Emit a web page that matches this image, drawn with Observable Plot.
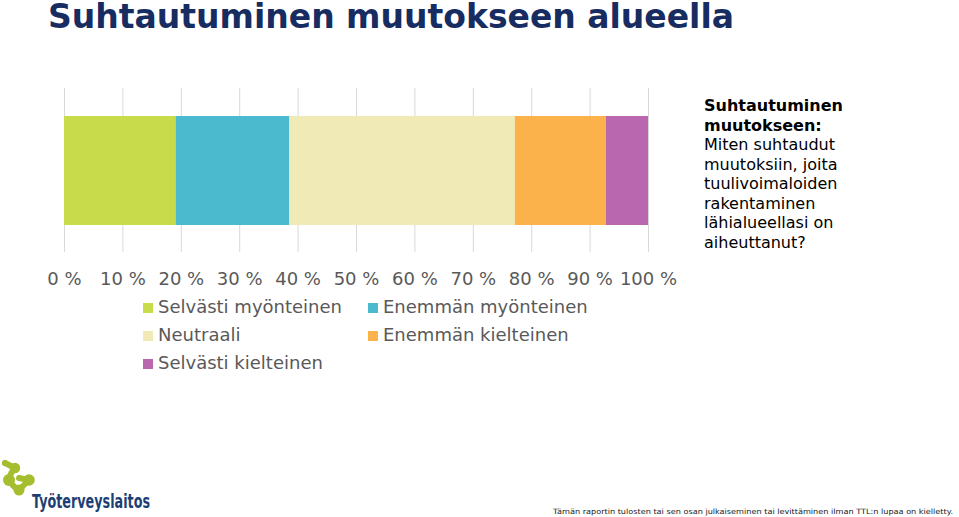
<!DOCTYPE html>
<html><head><meta charset="utf-8">
<script src="https://cdn.jsdelivr.net/npm/d3@7"></script>
<script src="https://cdn.jsdelivr.net/npm/@observablehq/plot@0.6"></script>
<style>
body{margin:0;width:959px;height:517px;position:relative;background:#fff;font-family:"DejaVu Sans",Verdana,sans-serif;overflow:hidden}
#title{position:absolute;left:48px;top:0px;font-size:33px;line-height:33px;font-weight:bold;color:#172C61;white-space:nowrap}
#chart{position:absolute;left:0;top:0}
.leg{position:absolute;font-size:18px;line-height:28px;color:#595959;white-space:nowrap}
.sw{display:inline-block;width:10px;height:10px;margin-right:5px;vertical-align:0px}
#note{position:absolute;left:704px;top:96px;font-size:16px;line-height:19.5px;color:#000}
#overlay{position:absolute;left:0;top:0}
</style></head>
<body>
<div id="title">Suhtautuminen muutokseen alueella</div>
<div id="chart"></div>
<div id="legend"></div>
<div id="note"><b>Suhtautuminen<br>muutokseen:</b><br>Miten suhtaudut<br>muutoksiin, joita<br>tuulivoimaloiden<br>rakentaminen<br>lähialueellasi on<br>aiheuttanut?</div>
<svg id="overlay" width="959" height="517">
  <g fill="#A4BE30" stroke="#A4BE30" stroke-linecap="round" stroke-linejoin="round">
    <circle cx="5" cy="463" r="3" stroke="none"/>
    <path d="M5,463 L15,468 M15,468 Q10,473 9,480 M9,480 Q13,487 19,490 M19,490 Q24,485 29,480 M19,478 L29,480" stroke-width="6" fill="none"/>
    <circle cx="15" cy="468" r="5.2" stroke="none"/>
    <circle cx="9" cy="480" r="6" stroke="none"/>
    <circle cx="29" cy="480" r="5.8" stroke="none"/>
    <circle cx="19" cy="490" r="5.5" stroke="none"/>
  </g>
  <text x="32" y="508" font-family="DejaVu Sans" font-weight="bold" font-size="19" fill="#1E3F74" textLength="118" lengthAdjust="spacingAndGlyphs">Työterveyslaitos</text>
  <text x="553" y="514" font-family="DejaVu Sans" font-size="7.3" fill="#222" textLength="400" lengthAdjust="spacingAndGlyphs">Tämän raportin tulosten tai sen osan julkaiseminen tai levittäminen ilman TTL:n lupaa on kielletty.</text>
</svg>
<script>
const categories = ["Selvästi myönteinen","Enemmän myönteinen","Neutraali","Enemmän kielteinen","Selvästi kielteinen"];
const values = [19.1, 19.5, 38.6, 15.6, 7.2];
const colors = ["#C8DB4B","#4BBACF","#F0EBB6","#FBB24A","#B967AE"];
const ticks = [0,10,20,30,40,50,60,70,80,90,100];

const data = categories.map((c,i)=>({category:c, value:values[i]}));

const plot = Plot.plot({
  width: 700, height: 290,
  marginLeft: 64, marginRight: 52, marginTop: 88, marginBottom: 38,
  style: {fontFamily: '"DejaVu Sans", Verdana, sans-serif', color: "#595959", background: "transparent"},
  x: {domain: [0,100], label: null},
  color: {domain: categories, range: colors},
  marks: [
    Plot.ruleX(ticks, {stroke: "#D9D9D9", strokeWidth: 1}),
    Plot.barX(data, Plot.stackX({x: "value", fill: "category", order: categories, insetTop: 28, insetBottom: 27})),
    Plot.axisX({ticks, tickFormat: d => d + " %", tickSize: 0, tickPadding: 20, fontSize: 18, fill: "#595959", label: null})
  ]
});
document.getElementById("chart").appendChild(plot);

// legend built from arrays
const legPos = [[143,293],[368,293],[143,321],[368,321],[143,349]];
const leg = document.getElementById("legend");
categories.forEach((c,i)=>{
  const d = document.createElement("div");
  d.className = "leg";
  d.style.left = legPos[i][0]+"px";
  d.style.top = legPos[i][1]+"px";
  const s = document.createElement("span");
  s.className = "sw"; s.style.background = colors[i];
  d.appendChild(s);
  d.appendChild(document.createTextNode(c));
  leg.appendChild(d);
});
</script>
</body></html>
